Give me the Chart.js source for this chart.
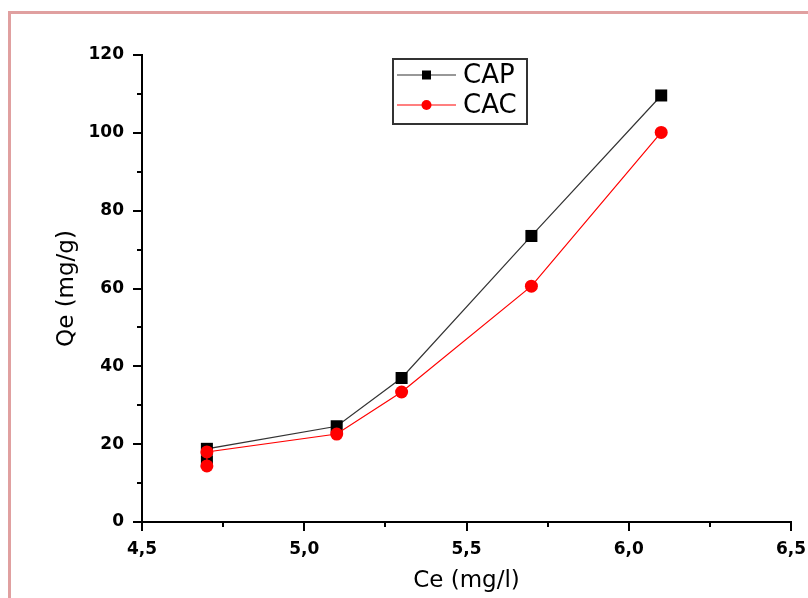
<!DOCTYPE html>
<html>
<head>
<meta charset="utf-8">
<script src="https://cdn.jsdelivr.net/npm/chart.js@4/dist/chart.umd.min.js"></script>
<style>
    html, body { margin: 0; padding: 0; background: #fff; }
    #wrap { position: relative; width: 808px; height: 598px; overflow: hidden; }
    #frame {
        position: absolute; left: 8px; top: 11px; width: 900px; height: 700px;
        border-top: 3px solid #e0a0a0; border-left: 3px solid #e0a0a0;
    }
    #isoChart { position: absolute; left: 0; top: 0; }
</style>
</head>
<body>
<div id="wrap">
    <div id="frame"></div>
    <canvas id="isoChart" width="808" height="598"></canvas>
</div>
<script>
// Equilibrium concentration Ce (mg/l)
const ceValues = [4.7, 4.7, 5.1, 5.3, 5.7, 6.1];
// Adsorbed quantity Qe (mg/g)
const capValues = [15.6, 18.8, 24.6, 37.0, 73.5, 109.6];
const cacValues = [14.4, 18.0, 22.6, 33.4, 60.6, 100.1];
const seriesNames = ['CAP', 'CAC'];
const yTicks = [0, 20, 40, 60, 80, 100, 120];
const xTicks = [4.5, 5.0, 5.5, 6.0, 6.5];

const FONT = "'DejaVu Sans', sans-serif";

function toPoints(ys) {
    return ceValues.map((x, i) => ({ x: x, y: ys[i] }));
}

// Outward major/minor tick marks on both axes
const tickMarks = {
    id: 'tickMarks',
    afterDraw(chart) {
        const ctx = chart.ctx;
        ctx.save();
        ctx.strokeStyle = '#000';
        ctx.lineWidth = 2;
        const xs = chart.scales.x, ys = chart.scales.y;
        xs.ticks.forEach(t => {
            const major = xTicks.some(v => Math.abs(v - t.value) < 1e-6);
            const px = Math.round(xs.getPixelForValue(t.value));
            ctx.beginPath();
            ctx.moveTo(px, xs.top);
            ctx.lineTo(px, xs.top + (major ? 9 : 5));
            ctx.stroke();
        });
        ys.ticks.forEach(t => {
            const major = yTicks.includes(t.value);
            const py = Math.round(ys.getPixelForValue(t.value));
            ctx.beginPath();
            ctx.moveTo(ys.right, py);
            ctx.lineTo(ys.right - (major ? 9 : 5), py);
            ctx.stroke();
        });
        ctx.restore();
    }
};

// Boxed legend with line + marker samples
const boxLegend = {
    id: 'boxLegend',
    afterDraw(chart, args, opts) {
        const ctx = chart.ctx;
        const b = opts.box;
        ctx.save();
        ctx.strokeStyle = '#333';
        ctx.lineWidth = 2;
        ctx.strokeRect(b.x, b.y, b.w, b.h);
        chart.data.datasets.forEach((ds, i) => {
            const row = opts.rows[i];
            ctx.strokeStyle = ds.borderColor;
            ctx.lineWidth = 1.2;
            ctx.beginPath();
            ctx.moveTo(opts.lineX0, row);
            ctx.lineTo(opts.lineX1, row);
            ctx.stroke();
            const mx = (opts.lineX0 + opts.lineX1) / 2;
            ctx.fillStyle = ds.pointBackgroundColor;
            ctx.beginPath();
            if (ds.pointStyle === 'rect') {
                ctx.rect(mx - 4.5, row - 4.5, 9, 9);
            } else {
                ctx.arc(mx, row, 5, 0, Math.PI * 2);
            }
            ctx.fill();
            ctx.fillStyle = '#000';
            ctx.font = '26px ' + FONT;
            ctx.textBaseline = 'middle';
            ctx.textAlign = 'left';
            ctx.fillText(ds.label, opts.textX, row + 1);
        });
        ctx.restore();
    }
};

new Chart(document.getElementById('isoChart'), {
    type: 'scatter',
    data: {
        datasets: [{
            label: seriesNames[0],
            data: toPoints(capValues),
            showLine: true,
            borderColor: '#333333',
            borderWidth: 1.2,
            pointStyle: 'rect',
            pointRadius: 8.5,
            pointHoverRadius: 8.5,
            pointBackgroundColor: '#000',
            pointBorderWidth: 0,
            order: 2
        }, {
            label: seriesNames[1],
            data: toPoints(cacValues),
            showLine: true,
            borderColor: '#ff0000',
            borderWidth: 1.2,
            pointStyle: 'circle',
            pointRadius: 6.5,
            pointHoverRadius: 6.5,
            pointBackgroundColor: '#ff0000',
            pointBorderWidth: 0,
            order: 1
        }]
    },
    options: {
        responsive: false,
        animation: false,
        layout: { padding: { left: 0, right: 17, top: 55, bottom: 0 } },
        plugins: {
            legend: { display: false },
            tooltip: { enabled: false },
            boxLegend: {
                box: { x: 393, y: 59, w: 134, h: 65 },
                rows: [75, 105],
                lineX0: 397,
                lineX1: 456,
                textX: 463
            }
        },
        scales: {
            x: {
                type: 'linear',
                min: 4.5,
                max: 6.5,
                afterFit: s => { s.height = 76; s.paddingRight = 10; s.paddingLeft = 0; },
                border: { display: true, color: '#000', width: 2 },
                grid: { display: false, drawTicks: true, tickLength: 9 },
                ticks: {
                    stepSize: 0.25,
                    autoSkip: false,
                    maxRotation: 0,
                    padding: 8,
                    color: '#000',
                    font: { family: FONT, size: 17, weight: 'bold' },
                    callback: v => xTicks.some(t => Math.abs(t - v) < 1e-6) ? v.toFixed(1).replace('.', ',') : ''
                },
                title: {
                    display: true,
                    text: 'Ce (mg/l)',
                    color: '#000',
                    font: { family: FONT, size: 23 },
                    padding: { top: 0, bottom: 3 }
                }
            },
            y: {
                min: 0,
                max: 120,
                afterFit: s => { s.width = 142; },
                border: { display: true, color: '#000', width: 2 },
                grid: { display: false, drawTicks: true, tickLength: 9 },
                ticks: {
                    stepSize: 10,
                    autoSkip: false,
                    padding: 9,
                    color: '#000',
                    font: { family: FONT, size: 17, weight: 'bold' },
                    callback: v => yTicks.includes(v) ? String(v) : ''
                },
                title: {
                    display: true,
                    text: 'Qe (mg/g)',
                    color: '#000',
                    font: { family: FONT, size: 23 },
                    padding: { top: 53, bottom: 0 }
                }
            }
        }
    },
    plugins: [tickMarks, boxLegend]
});
</script>
</body>
</html>
